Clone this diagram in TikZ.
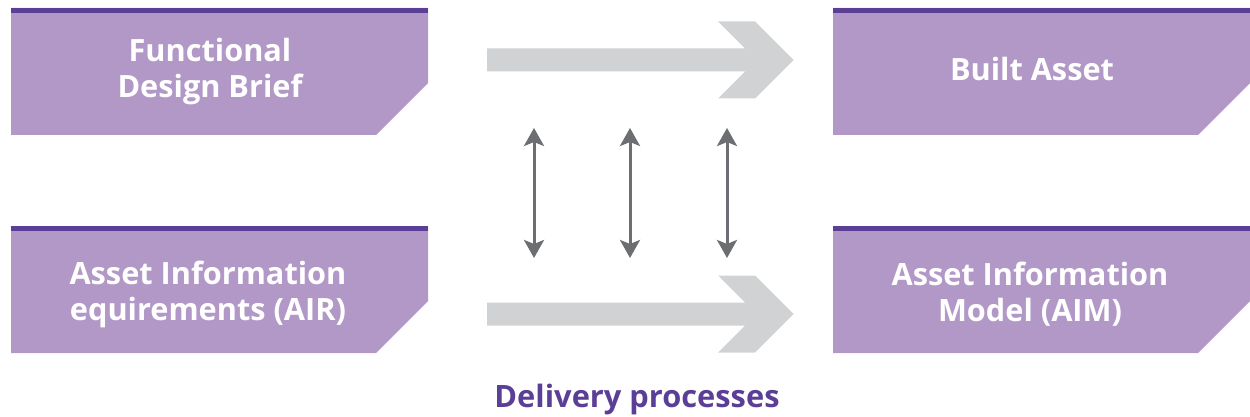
\documentclass[tikz,border=0pt]{standalone}
\usepackage{fontspec}
\setmainfont{Open Sans}
\usetikzlibrary{arrows.meta}
\definecolor{lilac}{HTML}{B198C7}
\definecolor{deeppurple}{HTML}{5B3F96}
\definecolor{lightgrey}{HTML}{D1D2D4}
\definecolor{darkgrey}{HTML}{6D6E71}
\tikzset{
  boxtext/.style={text=white, align=center, font=\bfseries\fontsize{30.7}{36}\selectfont},
  link/.style={draw=darkgrey, line width=3pt,
    {Stealth[length=18pt,width=20pt,inset=4pt]}-{Stealth[length=18pt,width=20pt,inset=4pt]}}
}
\begin{document}
\begin{tikzpicture}[x=1pt,y=-1pt]
    \useasboundingbox (0,0) rectangle (1250,417);
    % purple boxes with cut corner
    \foreach \x/\y in {11/8, 11/226, 833/8, 833/226} {
        \fill[lilac] (\x,\y) -- ++(417,0) -- ++(0,75) -- ++(-52,52) -- ++(-365,0) -- cycle;
        \draw[deeppurple, line width=5pt] (\x,\y+2.5) -- ++(417,0);
    }
    \node[boxtext] (brief) at (210,72) {Functional\\Design Brief};
    \node[boxtext] (built) at (1032,69) {Built Asset};
    \node[boxtext] (air) at (208,294) {Asset Information\\equirements (AIR)};
    \node[boxtext] (aim) at (1030,294) {Asset Information\\Model (AIM)};
    % grey arrows
    \foreach \c in {60,314}
        \fill[lightgrey] (487,\c-11.5) -- (745,\c-11.5) -- (718,\c-38.5) -- (755,\c-38.5)
            -- (793.5,\c) -- (755,\c+38.5) -- (718,\c+38.5) -- (745,\c+11.5) -- (487,\c+11.5) -- cycle;
    % exchange arrows
    \foreach \x [count=\i] in {534,630,727} {
        \coordinate (up\i) at (\x,128);
        \coordinate (dn\i) at (\x,258);
        \draw[link] (up\i) -- (dn\i);
    }
    \node[text=deeppurple, font=\bfseries\fontsize{30.8}{36}\selectfont, anchor=base] (delivery) at (637,407) {Delivery processes};
\end{tikzpicture}
\end{document}
